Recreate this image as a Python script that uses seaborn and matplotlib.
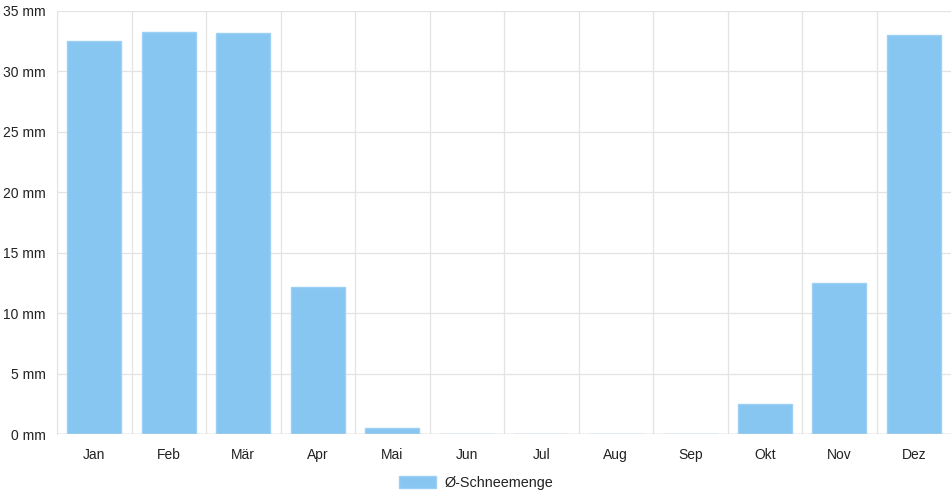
import pandas as pd
import matplotlib.pyplot as plt
import seaborn as sns

# Monthly average snowfall
months = ['Jan', 'Feb', 'Mär', 'Apr', 'Mai', 'Jun', 'Jul', 'Aug', 'Sep', 'Okt', 'Nov', 'Dez']
snow_mm = [32.5, 33.3, 33.2, 12.2, 0.5, 0, 0, 0, 0, 2.5, 12.5, 33.0]
series_name = 'Ø-Schneemenge'
y_ticks = [0, 5, 10, 15, 20, 25, 30, 35]

df = pd.DataFrame({'Monat': months, 'Schnee': snow_mm, 'Serie': series_name})

sns.set_style('white')
plt.rcParams['font.family'] = ['Liberation Sans', 'DejaVu Sans']

fig = plt.figure(figsize=(9.52, 5), dpi=100)
ax = fig.add_axes([57 / 952, 1 - 434 / 500, 894 / 952, 423 / 500])

sns.barplot(data=df, x='Monat', y='Schnee', hue='Serie', palette=['#88c6f2'],
            saturation=1, width=0.72, edgecolor='#9dd0f5', linewidth=1, ax=ax)

grid_col = '#e3e3e3'
ax.set_ylim(0, 35)
ax.set_xlim(-0.5, len(months) - 0.5)
ax.set_yticks(y_ticks)
ax.set_yticklabels([f'{v} mm' for v in y_ticks])
ax.set_xlabel('')
ax.set_ylabel('')

# horizontal grid at ticks, vertical grid at category boundaries
for v in y_ticks:
    ax.axhline(v, color=grid_col, lw=0.9, zorder=0)
for i in range(len(months)):
    ax.axvline(i - 0.5, color=grid_col, lw=0.9, zorder=0)
ax.axhline(0, color='#c8c8c8', lw=1, zorder=3)

ax.set_xticks([i - 0.5 for i in range(len(months))], minor=True)
ax.tick_params(axis='x', which='minor', length=6, color=grid_col, width=0.9)
ax.tick_params(axis='x', which='major', length=0, pad=10, labelsize=10, labelcolor='#222222')
ax.tick_params(axis='y', length=6, color=grid_col, width=0.9, pad=2, labelsize=10, labelcolor='#222222')

for s in ['top', 'right', 'bottom']:
    ax.spines[s].set_visible(False)
ax.spines['left'].set_color(grid_col)

ax.get_legend().remove()
handles, labels = ax.get_legend_handles_labels()
fig.legend(handles, labels, loc='center', bbox_to_anchor=(0.5, 1 - 483 / 500), frameon=False,
           fontsize=10.4, handlelength=2.6, handleheight=0.9, handletextpad=0.55,
           borderpad=0, labelcolor='#222222')

fig.savefig('out.png', dpi=100)
